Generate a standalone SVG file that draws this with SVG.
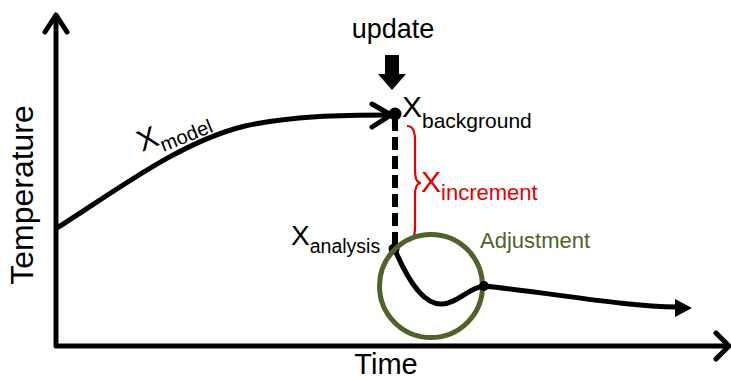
<svg xmlns="http://www.w3.org/2000/svg" width="731" height="380" viewBox="0 0 731 380">
<style>
text{font-family:"Liberation Sans",Arial,sans-serif;fill:#000}
.ln{fill:none;stroke:#000;stroke-width:5;stroke-linecap:round;stroke-linejoin:round}
.red{fill:#e60000}
.grn{fill:#4f6228}
</style>
<rect width="731" height="380" fill="#fff"/>
<g id="axes">
<path class="ln" d="M56,16 L56,346 L727,346"/>
<path class="ln" d="M45,32 L56,15 L67,32"/>
<path class="ln" d="M716,333 L729,346 L716,359"/>
<text x="33" y="195" font-size="32" text-anchor="middle" transform="rotate(-90 33 195)">Temperature</text>
<text x="386" y="374" font-size="29" text-anchor="middle">Time</text>
</g>
<g id="connectors">
<path class="ln" d="M57,228 C120,188 180,142 245,126 C290,116 340,115 392,115"/>
<path class="ln" d="M372,104 L391,115 L372,127"/>
<path d="M395,118 L395,246" fill="none" stroke="#000" stroke-width="6" stroke-dasharray="13,6"/>
<path class="ln" d="M395,250 C410,285 425,305 442,304 C458,303 468,288 484,286 C560,294 620,306 678,307"/>
<path d="M692,308 L675,299 L675,317 Z" fill="#000"/>
</g>
<g id="update">
<text x="393" y="38" font-size="27" text-anchor="middle">update</text>
<path d="M385,55 L399,55 L399,74 L406,74 L392,90 L378,74 L385,74 Z" fill="#000"/>
</g>
<g id="background">
<circle cx="395" cy="114" r="6.5" fill="#000"/>
<text x="402" y="117" font-size="30">X<tspan font-size="21" dy="11">background</tspan></text>
</g>
<g id="model">
<text x="142" y="152" font-size="30" transform="rotate(-22 142 152)">X<tspan font-size="20" dy="8">model</tspan></text>
</g>
<g id="increment">
<path d="M407,126 Q415,126 415,140 L415,170 Q415,183 421,183 Q415,183 415,196 L415,228 Q415,241 407,241" fill="none" stroke="#e60000" stroke-width="2.2"/>
<text x="421" y="192" font-size="30" class="red">X<tspan font-size="22" dy="8">increment</tspan></text>
</g>
<g id="analysis">
<circle cx="394" cy="249" r="5.5" fill="#000"/>
<text x="291" y="245" font-size="28">X<tspan font-size="19.5" dy="8">analysis</tspan></text>
</g>
<g id="adjustment">
<circle cx="431" cy="286" r="51.5" fill="none" stroke="#4f6228" stroke-width="5"/>
<circle cx="484" cy="286" r="5" fill="#000"/>
<text x="480" y="248" font-size="22" class="grn">Adjustment</text>
</g>
</svg>
